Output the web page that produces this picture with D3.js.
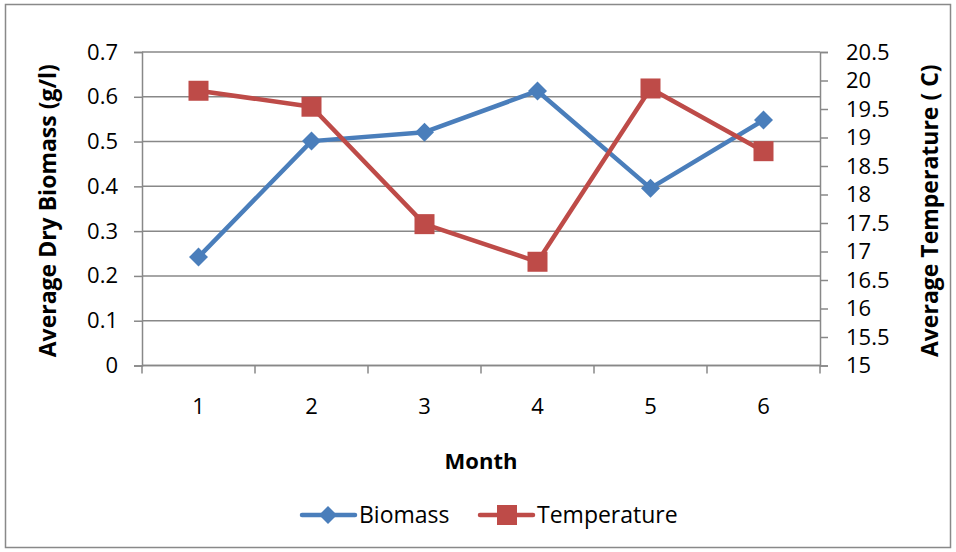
<!DOCTYPE html>
<html><head><meta charset="utf-8">
<script src="https://cdn.jsdelivr.net/npm/d3@7"></script>
<style>body{margin:0;background:#fff}svg{display:block}text{font-family:"Open Sans",sans-serif;fill:#000}</style>
</head><body><svg id="c" width="956" height="552"></svg>
<script>
const months = ["1","2","3","4","5","6"];
const biomass = [0.242, 0.501, 0.521, 0.613, 0.396, 0.548];
const temperature = [19.82, 19.54, 17.48, 16.82, 19.86, 18.76];
const leftTicks = [0,0.1,0.2,0.3,0.4,0.5,0.6,0.7];
const rightTicks = [15,15.5,16,16.5,17,17.5,18,18.5,19,19.5,20,20.5];
const seriesNames = ["Biomass","Temperature"];
const colors = ["#4a7ebb","#be4b48"];
const FONT = "'Open Sans',sans-serif";

const svg = d3.select("#c");
const L=142, R=820, T=52, B=365.5;
svg.append("rect").attr("x",5.5).attr("y",4.5).attr("width",945).attr("height",543).attr("fill","#fff").attr("stroke","#898989").attr("stroke-width",1.5);

const x = d3.scaleBand().domain(months).range([L,R]);
const yL = d3.scaleLinear().domain([0,0.7]).range([B,T]);
const yR = d3.scaleLinear().domain([15,20.5]).range([B,T]);

svg.append("g").selectAll("line").data(leftTicks).join("line")
  .attr("x1",L).attr("x2",R).attr("y1",d=>yL(d)).attr("y2",d=>yL(d))
  .attr("stroke","#888").attr("stroke-width",1.5);

const gl = svg.append("g").attr("transform",`translate(${L},0)`)
  .call(d3.axisLeft(yL).tickValues(leftTicks).tickSize(8).tickPadding(16).tickFormat(d=>d===0?"0":d3.format(".1f")(d)));
const gr = svg.append("g").attr("transform",`translate(${R},0)`)
  .call(d3.axisRight(yR).tickValues(rightTicks).tickSize(8).tickPadding(18).tickFormat(d=>String(d)));
const gb = svg.append("g").attr("transform",`translate(0,${B})`)
  .call(d3.axisBottom(x).tickSize(0).tickPadding(33));
gb.append("g").selectAll("line").data(d3.range(months.length+1)).join("line")
  .attr("x1",i=>L+i*x.step()).attr("x2",i=>L+i*x.step()).attr("y1",0).attr("y2",8)
  .attr("stroke","#888").attr("stroke-width",1.5);
[gl,gr,gb].forEach(g=>{
  g.selectAll(".domain").attr("stroke","#888").attr("stroke-width",1.5);
  g.selectAll(".tick line").attr("stroke","#888").attr("stroke-width",1.5);
  g.selectAll("text").attr("font-size",22).attr("font-family",FONT).attr("fill","#000");
});
gb.selectAll(".domain").attr("d",`M${L},0H${R}`);

svg.append("text").attr("transform",`translate(56,${(T+B)/2+2}) rotate(-90)`).attr("text-anchor","middle")
  .attr("font-size",23).attr("font-weight","bold").text("Average Dry Biomass (g/l)");
svg.append("text").attr("transform",`translate(938,${(T+B)/2+2}) rotate(-90)`).attr("text-anchor","middle")
  .attr("font-size",23).attr("font-weight","bold").text("Average Temperature ( C)");
svg.append("text").attr("x",481).attr("y",469).attr("text-anchor","middle")
  .attr("font-size",22).attr("font-weight","bold").text("Month");

const cx = m=>x(m)+x.bandwidth()/2;
const line1 = d3.line().x((d,i)=>cx(months[i])).y(d=>yL(d));
const line2 = d3.line().x((d,i)=>cx(months[i])).y(d=>yR(d));
svg.append("path").attr("d",line1(biomass)).attr("fill","none").attr("stroke",colors[0]).attr("stroke-width",4.5).attr("stroke-linejoin","round");
svg.append("path").attr("d",line2(temperature)).attr("fill","none").attr("stroke",colors[1]).attr("stroke-width",4.5).attr("stroke-linejoin","round");

const diamond = (cxp,cyp,r)=>`M${cxp},${cyp-r}L${cxp+r},${cyp}L${cxp},${cyp+r}L${cxp-r},${cyp}Z`;
svg.append("g").selectAll("path").data(biomass).join("path")
  .attr("d",(d,i)=>diamond(cx(months[i]),yL(d),9.5)).attr("fill",colors[0]);
svg.append("g").selectAll("rect").data(temperature).join("rect")
  .attr("x",(d,i)=>cx(months[i])-10).attr("y",d=>yR(d)-10).attr("width",20).attr("height",20).attr("fill",colors[1]);

const lg = svg.append("g");
const ly = 515;
lg.append("line").attr("x1",302).attr("x2",355).attr("y1",ly).attr("y2",ly).attr("stroke",colors[0]).attr("stroke-width",4.5).attr("stroke-linecap","round");
lg.append("path").attr("d",diamond(328,ly,9)).attr("fill",colors[0]);
lg.append("text").attr("x",359).attr("y",ly+8).attr("font-size",23).text(seriesNames[0]);
lg.append("line").attr("x1",480).attr("x2",533).attr("y1",ly).attr("y2",ly).attr("stroke",colors[1]).attr("stroke-width",4.5).attr("stroke-linecap","round");
lg.append("rect").attr("x",497).attr("y",ly-10).attr("width",20).attr("height",20).attr("fill",colors[1]);
lg.append("text").attr("x",537).attr("y",ly+8).attr("font-size",23).text(seriesNames[1]);
</script></body></html>
